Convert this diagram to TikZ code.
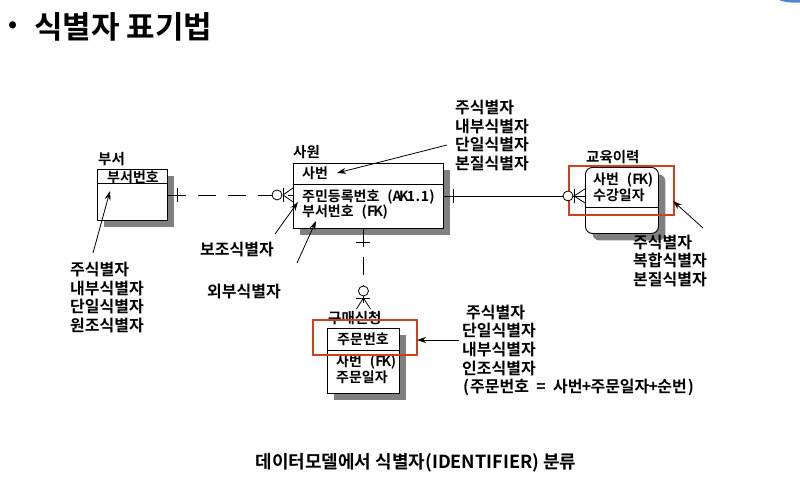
\documentclass[tikz,border=0pt]{standalone}
\usepackage{fontspec}
\setmainfont{Noto Sans CJK KR}[BoldFont=* Bold]
\usetikzlibrary{arrows.meta,shadows,calc}
\definecolor{redbox}{RGB}{205,65,30}
\definecolor{shadowgray}{RGB}{128,128,128}
\definecolor{cornerblue}{RGB}{80,135,200}
\newcommand\hw[1]{\makebox[0.5em][c]{#1}}
\begin{document}
\begin{tikzpicture}[x=1pt,y=-1pt,
  ent/.style={draw,line width=0.9pt,fill=white,inner sep=0,anchor=north west,
    drop shadow={shadow xshift=7pt,shadow yshift=-7pt,fill=shadowgray,opacity=1}},
  etxt/.style={font=\fontsize{14}{15}\selectfont\bfseries,inner sep=0,anchor=west},
  lbl/.style={font=\fontsize{14.5}{16}\selectfont\bfseries,inner sep=0,anchor=west},
  ann/.style={font=\fontsize{16}{18.6}\selectfont\bfseries,inner sep=0,anchor=west,align=left},
  arr/.style={-{Stealth[length=9pt,width=6pt]},line width=0.8pt},
  rel/.style={line width=0.8pt},
  redr/.style={draw=redbox,line width=1.8pt,inner sep=0,anchor=north west},
]
\useasboundingbox (0,0) rectangle (800,489);
\fill[cornerblue] (779,0) .. controls (784,2.5) and (794,3) .. (800,2.5) -- (800,0) -- cycle;

% title
\node[font=\fontsize{24}{26}\selectfont\bfseries,inner sep=0] (bul) at (13,27) {•};
\node[font=\fontsize{31}{33}\selectfont\bfseries,inner sep=0,anchor=west] (title) at (34,27) {식별자 표기법};

% entities
\node[ent,minimum width=70pt,minimum height=51pt] (bs) at (97,169) {};
\node[ent,minimum width=150pt,minimum height=65pt] (sw) at (293,163) {};
\node[ent,minimum width=73pt,minimum height=66pt,rounded corners=7pt] (ed) at (585,167) {};
\node[ent,minimum width=72pt,minimum height=65pt] (gm) at (327,328) {};

\draw[rel] (bs.west |- 0,183) -- (bs.east |- 0,183);
\draw[rel] (sw.west |- 0,184) -- (sw.east |- 0,184);
\draw[rel] (ed.west |- 0,207) -- (ed.east |- 0,207);
\draw[rel] (gm.west |- 0,350) -- (gm.east |- 0,350);

% entity labels and attributes
\node[lbl] (lbs) at (98,159) {부서};
\node[etxt,anchor=center] (bs1) at (133,177.5) {부서번호};
\node[lbl] (lsw) at (293,152) {사원};
\node[etxt] (sw1) at (302,173) {사번};
\node[etxt] (sw2) at (302,197) {주민등록번호\hw{~}\hw{(}\hw{A}\hw{K}\hw{1}\hw{.}\hw{1}\hw{)}};
\node[etxt] (sw3) at (302,212) {부서번호\hw{~}\hw{(}\hw{F}\hw{K}\hw{)}};
\node[lbl] (led) at (586,157) {교육이력};
\node[etxt] (ed1) at (593,180) {사번\hw{~}\hw{(}\hw{F}\hw{K}\hw{)}};
\node[etxt] (ed2) at (593,195) {수강일자};
\node[lbl] (lgm) at (328,318) {구매신청};
\node[etxt,anchor=center] (gm1) at (363,339) {주문번호};
\node[etxt] (gm2) at (336,362) {사번\hw{~}\hw{(}\hw{F}\hw{K}\hw{)}};
\node[etxt] (gm3) at (336,377) {주문일자};

% red highlight boxes
\node[redr,minimum width=105pt,minimum height=49pt] (r1) at (568,165) {};
\node[redr,minimum width=104pt,minimum height=35pt] (r2) at (312,319) {};

% relationship 부서 - 사원
\coordinate (c1a) at (bs.east);
\coordinate (c1b) at (bs.east -| sw.west);
\draw[rel,dash pattern=on 18pt off 12pt] (c1a) -- (c1b);
\draw[rel] ($(c1a)+(9,-7)$) -- ($(c1a)+(9,7)$);
\draw[rel] ($(c1b)+(-10,-7)$) -- ($(c1b)+(-10,7)$);
\draw[rel] ($(c1b)+(-10,0)$) -- ($(c1b)+(0,-7)$);
\draw[rel] ($(c1b)+(-10,0)$) -- ($(c1b)+(0,7)$);
\draw[rel,fill=white] ($(c1b)+(-16,0)$) circle (5);

% relationship 사원 - 교육이력
\coordinate (c2a) at (sw.east);
\coordinate (c2b) at (sw.east -| ed.west);
\draw[rel] (c2a) -- (c2b);
\draw[rel] ($(c2a)+(9,-7)$) -- ($(c2a)+(9,7)$);
\draw[rel] ($(c2b)+(-11,-7)$) -- ($(c2b)+(-11,7)$);
\draw[rel] ($(c2b)+(-11,0)$) -- ($(c2b)+(0,-7)$);
\draw[rel] ($(c2b)+(-11,0)$) -- ($(c2b)+(0,7)$);
\draw[rel,fill=white] ($(c2b)+(-17,0)$) circle (5);

% relationship 사원 - 구매신청
\coordinate (c3a) at (gm.north |- sw.south);
\coordinate (c3b) at (gm.north |- 0,309);
\draw[rel,dash pattern=on 18pt off 10pt] (c3a) -- (c3b);
\draw[rel] ($(c3a)+(-7,13)$) -- ($(c3a)+(7,13)$);
\draw[rel] ($(c3b)+(-7,-11)$) -- ($(c3b)+(7,-11)$);
\draw[rel] ($(c3b)+(0,-11)$) -- ($(c3b)+(-7,0)$);
\draw[rel] ($(c3b)+(0,-11)$) -- ($(c3b)+(7,0)$);
\draw[rel,fill=white] ($(c3b)+(0,-18)$) circle (5);

% annotations
\node[ann] (a1) at (455,135.5) {주식별자\\내부식별자\\단일식별자\\본질식별자};
\node[ann] (a2) at (633,261) {주식별자\\복합식별자\\본질식별자};
\node[ann] (a3) at (70,297.5) {주식별자\\내부식별자\\단일식별자\\원조식별자};
\node[ann] (a4) at (200,250) {보조식별자};
\node[ann] (a5) at (207,292) {외부식별자};
\node[ann] (a6) at (462,350.5) {\hspace{4pt}주식별자\\단일식별자\\내부식별자\\인조식별자\\\hw{(}주문번호\hw{~}\hw{=}\hw{~}사번\hw{+}주문일자\hw{+}순번\hw{)}};

% annotation arrows
\coordinate (p1s) at (447,145); \coordinate (p1e) at (337,173);
\draw[arr] (p1s) -- (p1e);
\coordinate (p2s) at (703,228); \coordinate (p2e) at (673,201);
\draw[arr] (p2s) -- (p2e);
\coordinate (p3s) at (93,253); \coordinate (p3e) at (110,191);
\draw[arr] (p3s) -- (p3e);
\coordinate (p4s) at (275,234); \coordinate (p4e) at (298,202);
\draw[arr] (p4s) -- (p4e);
\coordinate (p5s) at (297,263); \coordinate (p5e) at (316,221);
\draw[arr] (p5s) -- (p5e);
\coordinate (p6s) at (459,340); \coordinate (p6e) at (417,340);
\draw[arr] (p6s) -- (p6e);

% caption
\node[font=\fontsize{18}{20}\selectfont\bfseries,inner sep=0] (cap) at (416,463) {데이터모델에서 식별자(IDENTIFIER) 분류};
\end{tikzpicture}
\end{document}
